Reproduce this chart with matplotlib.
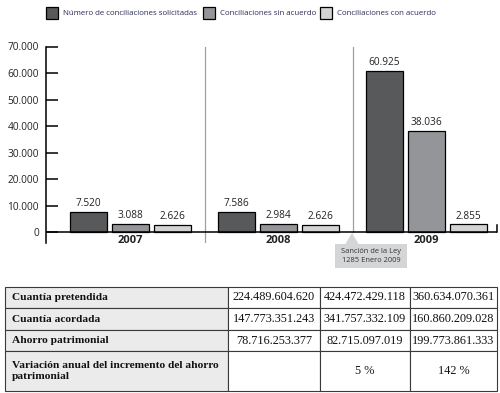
import numpy as np
import matplotlib
matplotlib.use('Agg')
import matplotlib.pyplot as plt
from matplotlib.patches import Rectangle, Polygon

years = ['2007', '2008', '2009']
series_names = ['Número de conciliaciones solicitadas', 'Conciliaciones sin acuerdo', 'Conciliaciones con acuerdo']
solicitadas = [7520, 7586, 60925]
sin_acuerdo = [3088, 2984, 38036]
con_acuerdo = [2626, 2626, 2855]
colors = ['#58595b', '#939598', '#d1d3d4']
yticks = [0, 10000, 20000, 30000, 40000, 50000, 60000, 70000]

row_labels = ['Cuantía pretendida', 'Cuantía acordada', 'Ahorro patrimonial',
              'Variación anual del incremento del ahorro\npatrimonial']
cuantia_pretendida = ['224.489.604.620', '424.472.429.118', '360.634.070.361']
cuantia_acordada = ['147.773.351.243', '341.757.332.109', '160.860.209.028']
ahorro = ['78.716.253.377', '82.715.097.019', '199.773.861.333']
variacion = ['', '5 %', '142 %']

W, H = 500, 393
fig = plt.figure(figsize=(W / 100, H / 100), dpi=100)
txt = '#222222'
sans = ['Open Sans', 'DejaVu Sans']
serif = ['Liberation Serif', 'DejaVu Serif']


def fx(x):
    return x / W


def fy(y):
    return 1 - y / H


# legend (drawn by hand to keep the spacing of the original)
leg_x = [46, 203, 320]
for i, name in enumerate(series_names):
    fig.patches.append(Rectangle((fx(leg_x[i]), fy(19)), 12 / W, 12 / H, transform=fig.transFigure,
                                 facecolor=colors[i], edgecolor='black', lw=0.9))
    fig.text(fx(leg_x[i] + 17), fy(13.5), name, fontsize=5.7, color='#2b2b55', va='center', family=sans)

# bar chart
ax = fig.add_axes([fx(46), fy(243), 451 / W, (243 - 46.5) / H])
x = np.arange(len(years))
width = 0.25
offs = [-0.284, 0, 0.284]
for vals, off, c in zip([solicitadas, sin_acuerdo, con_acuerdo], offs, colors):
    b = ax.bar(x + off, vals, width, color=c, edgecolor='black', lw=0.9, zorder=3)
    ax.bar_label(b, labels=[f'{v:,}'.replace(',', '.') for v in vals], padding=2,
                 fontsize=7.3, color=txt, family=sans)

ax.set_xlim(-0.571, 2.476)
ax.set_ylim(-4150, 70000)
ax.set_yticks(yticks)
ax.set_yticklabels([f'{v:,}'.replace(',', '.') for v in yticks], fontsize=7.3, color=txt, family=sans)
ax.tick_params(axis='y', direction='in', length=8.6, width=1.1, pad=5)
ax.set_xticks([])
for s in ['top', 'right', 'bottom']:
    ax.spines[s].set_visible(False)
ax.spines['left'].set_linewidth(1.1)
ax.axhline(0, color='black', lw=1.1, zorder=4)
ax.plot([2.476, 2.476], [0, 2700], color='black', lw=1.1, clip_on=False)

# separators between years
ax.plot([0.5, 0.5], [-4000, 70000], color='#a0a0a0', lw=0.9, zorder=1)
ax.plot([1.5, 1.5], [0, 70000], color='#a0a0a0', lw=0.9, zorder=1)

for i, yr in enumerate(years):
    ax.text(x[i], -3300, yr, ha='center', va='center', fontsize=8, fontweight='bold',
            color=txt, family=sans, clip_on=False)

# callout for the law
fig.patches.append(Polygon([(fx(345), fy(244.5)), (fx(359), fy(244.5)), (fx(352), fy(233))],
                           closed=True, transform=fig.transFigure, facecolor='#d4d5d6', edgecolor='none'))
fig.patches.append(Rectangle((fx(335), fy(268)), 72 / W, 24 / H, transform=fig.transFigure,
                             facecolor='#d4d5d6', edgecolor='none'))
fig.text(fx(371), fy(256), 'Sanción de la Ley\n1285 Enero 2009', ha='center', va='center',
         fontsize=5.4, color='#333333', family=sans, linespacing=1.5)

# table
tax = fig.add_axes([fx(5), fy(391), 492 / W, 104 / H])
tax.axis('off')
rows = [cuantia_pretendida, cuantia_acordada, ahorro, variacion]
cell_text = [[row_labels[i]] + rows[i] for i in range(len(rows))]
col_w = [223, 92, 90, 87]
row_h = [21, 22, 21, 40]
tbl = tax.table(cellText=cell_text, colWidths=[w / sum(col_w) for w in col_w], bbox=[0, 0, 1, 1])
tbl.auto_set_font_size(False)
for (r, c), cell in tbl.get_celld().items():
    cell.set_height(row_h[r] / sum(row_h))
    cell.set_edgecolor('#3a3a3a')
    cell.set_linewidth(0.8)
    t = cell.get_text()
    t.set_color('#111111')
    t.set_family(serif)
    if c == 0:
        cell.set_facecolor('#ebebeb')
        t.set_fontsize(8.2)
        t.set_fontweight('bold')
        t.set_ha('left')
        t.set_linespacing(1.3)
        cell.PAD = 0.03
    else:
        cell.set_facecolor('white')
        t.set_fontsize(8.8)
        t.set_ha('center')
        cell._loc = 'center'

fig.savefig('out.png', dpi=100)
